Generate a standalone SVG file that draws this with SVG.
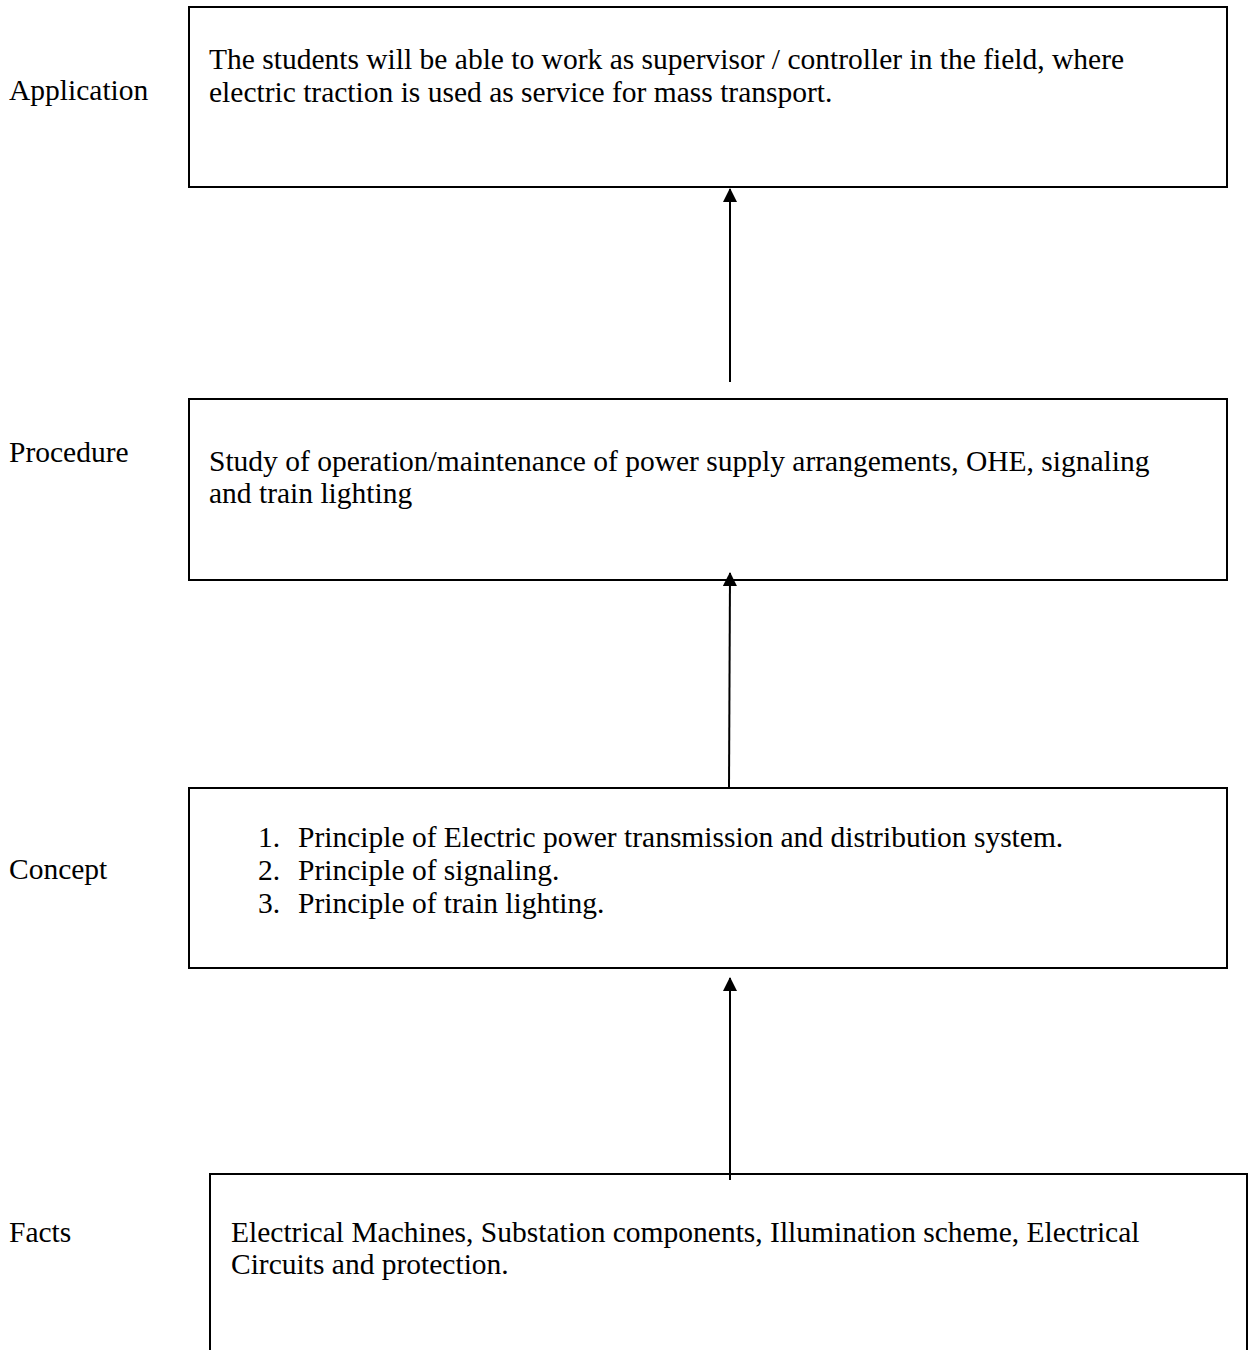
<svg xmlns="http://www.w3.org/2000/svg" width="1249" height="1350" viewBox="0 0 1249 1350">
<style>
text{font-family:"Liberation Serif","Times New Roman",serif;font-size:29.5px;fill:#000}
.box{fill:#fff;stroke:#000;stroke-width:2}
.conn{stroke:#000;stroke-width:2;fill:none}
</style>
<defs>
<marker id="ah" markerUnits="userSpaceOnUse" markerWidth="14" markerHeight="14" viewBox="0 0 14 14" refX="13" refY="7" orient="auto">
<path d="M0,0 L14,7 L0,14 Z" fill="#000"/>
</marker>
</defs>
<rect width="1249" height="1350" fill="#fff"/>
<g id="application">
<rect class="box" x="189" y="7" width="1038" height="180"/>
<text x="9" y="100">Application</text>
<text x="209" y="69">The students will be able to work as supervisor / controller in the field, where</text>
<text x="209" y="102">electric traction is used as service for mass transport.</text>
</g>
<g id="procedure">
<rect class="box" x="189" y="399" width="1038" height="181"/>
<text x="9" y="462">Procedure</text>
<text x="209" y="471">Study of operation/maintenance of power supply arrangements, OHE, signaling</text>
<text x="209" y="503">and train lighting</text>
</g>
<g id="concept">
<rect class="box" x="189" y="788" width="1038" height="180"/>
<text x="9" y="879">Concept</text>
<text x="258" y="847">1.</text>
<text x="298" y="847">Principle of Electric power transmission and distribution system.</text>
<text x="258" y="880">2.</text>
<text x="298" y="880">Principle of signaling.</text>
<text x="258" y="913">3.</text>
<text x="298" y="913">Principle of train lighting.</text>
</g>
<g id="facts">
<rect class="box" x="210" y="1174" width="1037" height="200"/>
<text x="9" y="1242">Facts</text>
<text x="231" y="1242">Electrical Machines, Substation components, Illumination scheme, Electrical</text>
<text x="231" y="1274">Circuits and protection.</text>
</g>
<g id="connectors">
<line class="conn" x1="730" y1="382" x2="730" y2="189" marker-end="url(#ah)"/>
<line class="conn" x1="729" y1="788" x2="730" y2="573" marker-end="url(#ah)"/>
<line class="conn" x1="730" y1="1180" x2="730" y2="978" marker-end="url(#ah)"/>
</g>
</svg>
